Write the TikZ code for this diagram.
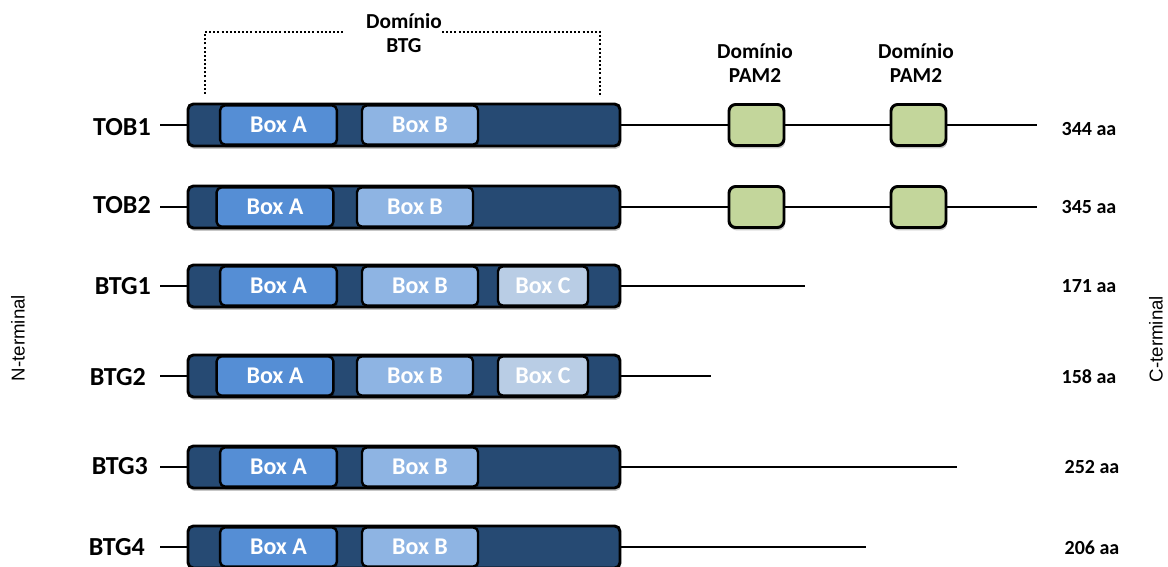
\documentclass[tikz,border=0pt]{standalone}
\usepackage{fontspec}
\setmainfont{Carlito}
\newfontfamily\axisfont{Liberation Sans}
\usetikzlibrary{shadows}
\definecolor{bardark}{HTML}{264A73}
\definecolor{boxa}{HTML}{558ED5}
\definecolor{boxb}{HTML}{8EB4E3}
\definecolor{boxc}{HTML}{B9CDE5}
\definecolor{pamgreen}{HTML}{C3D69B}
\tikzset{
  softshade/.style={general shadow={shadow xshift=0.8pt, shadow yshift=-2.2pt, fill=black, opacity=0.22}},
  protbar/.style={draw=black, line width=2.2pt, fill=bardark, rounded corners=4pt, softshade,
    minimum width=324pt, minimum height=31.5pt, inner sep=0pt, outer sep=0pt},
  motif/.style={draw=black, line width=1.8pt, rounded corners=3.5pt, softshade,
    minimum height=29.25pt, inner sep=0pt, outer sep=0pt, text=white,
    font=\fontsize{18}{20}\selectfont\bfseries},
  boxA/.style={motif, fill=boxa, minimum width=87.5pt},
  boxB/.style={motif, fill=boxb, minimum width=87pt},
  boxC/.style={motif, fill=boxc, minimum width=67.5pt},
  pambox/.style={draw=black, line width=2.2pt, fill=pamgreen, rounded corners=5pt, softshade,
    minimum width=41.25pt, minimum height=30.75pt, inner sep=0pt, outer sep=0pt},
  chainline/.style={line width=1.6pt, draw=black},
  rowname/.style={anchor=east, font=\fontsize{19.5}{22}\selectfont\bfseries, inner sep=0pt},
  aalen/.style={font=\fontsize{15}{17}\selectfont\bfseries, inner sep=0pt},
  domlabel/.style={align=center, font=\fontsize{16}{17.5}\selectfont\bfseries, inner sep=0pt},
  terminus/.style={rotate=90, font=\axisfont\fontsize{14}{16}\selectfont, inner sep=0pt},
  brkt/.style={line width=1.5pt, dash pattern=on 1.5pt off 1.6pt},
}
\begin{document}
\begin{tikzpicture}[x=0.75pt, y=-0.75pt]
\useasboundingbox (0,0) rectangle (1168,567);

% N/C-terminal side labels
\node[terminus] (nterm) at (18,338) {N-terminal};
\node[terminus] (cterm) at (1156,339) {C-terminal};

% domain headers
\node[domlabel] (btgdom) at (404,33) {Domínio\\BTG};
\node[domlabel] (pamdomA) at (755,63) {Domínio\\PAM2};
\node[domlabel] (pamdomB) at (916,63) {Domínio\\PAM2};
\coordinate (brL0) at (205,94);
\coordinate (brL1) at (205,32);
\coordinate (brL2) at (345,32);
\coordinate (brR0) at (442,32);
\coordinate (brR1) at (600,32);
\coordinate (brR2) at (600,97);
\draw[brkt] (brL0) -- (brL1) -- (brL2);
\draw[brkt] (brR0) -- (brR1) -- (brR2);

% ---- TOB1 ----
\coordinate (t1s) at (160,125);
\coordinate (t1e) at (1037,125);
\node[pambox] (t1p1) at (756.5,125) {};
\node[pambox] (t1p2) at (918.5,125) {};
\draw[chainline] (t1p1.east) -- (t1p2.west) (t1p2.east) -- (t1e);
\node[protbar] (t1) at (404,125) {};
\draw[chainline] (t1s) -- (t1.west) (t1.east) -- (t1p1.west);
\node[boxA] (t1a) at (278.5,125) {Box A};
\node[boxB] (t1b) at (420,125) {Box B};
\node[rowname] (t1n) at (151,127) {TOB1};
\node[aalen] (t1l) at (1089,129) {344 aa};

% ---- TOB2 ----
\coordinate (t2s) at (160,207);
\coordinate (t2e) at (1037,207);
\node[pambox] (t2p1) at (756.5,207) {};
\node[pambox] (t2p2) at (918.5,207) {};
\draw[chainline] (t2p1.east) -- (t2p2.west) (t2p2.east) -- (t2e);
\node[protbar] (t2) at (404,207) {};
\draw[chainline] (t2s) -- (t2.west) (t2.east) -- (t2p1.west);
\node[boxA] (t2a) at (275,207) {Box A};
\node[boxB] (t2b) at (415,207) {Box B};
\node[rowname] (t2n) at (151,205) {TOB2};
\node[aalen] (t2l) at (1089,207) {345 aa};

% ---- BTG1 ----
\coordinate (b1s) at (160,286);
\coordinate (b1e) at (805,286);
\node[protbar] (b1) at (404,286) {};
\draw[chainline] (b1s) -- (b1.west) (b1.east) -- (b1e);
\node[boxA] (b1a) at (278.5,286) {Box A};
\node[boxB] (b1b) at (420,286) {Box B};
\node[boxC] (b1c) at (543,286) {Box C};
\node[rowname] (b1n) at (151,286) {BTG1};
\node[aalen] (b1l) at (1089,286) {171 aa};

% ---- BTG2 ----
\coordinate (b2s) at (160,376);
\coordinate (b2e) at (711,376);
\node[protbar] (b2) at (404,376) {};
\draw[chainline] (b2s) -- (b2.west) (b2.east) -- (b2e);
\node[boxA] (b2a) at (275,376) {Box A};
\node[boxB] (b2b) at (415,376) {Box B};
\node[boxC] (b2c) at (543,376) {Box C};
\node[rowname] (b2n) at (146,377) {BTG2};
\node[aalen] (b2l) at (1089,377) {158 aa};

% ---- BTG3 ----
\coordinate (b3s) at (160,467);
\coordinate (b3e) at (957,467);
\node[protbar] (b3) at (404,467) {};
\draw[chainline] (b3s) -- (b3.west) (b3.east) -- (b3e);
\node[boxA] (b3a) at (278.5,467) {Box A};
\node[boxB] (b3b) at (420,467) {Box B};
\node[rowname] (b3n) at (148,466) {BTG3};
\node[aalen] (b3l) at (1092,467) {252 aa};

% ---- BTG4 ----
\coordinate (b4s) at (160,547);
\coordinate (b4e) at (866,547);
\node[protbar] (b4) at (404,547) {};
\draw[chainline] (b4s) -- (b4.west) (b4.east) -- (b4e);
\node[boxA] (b4a) at (278.5,547) {Box A};
\node[boxB] (b4b) at (420,547) {Box B};
\node[rowname] (b4n) at (145,547) {BTG4};
\node[aalen] (b4l) at (1092,548) {206 aa};
\end{tikzpicture}
\end{document}
